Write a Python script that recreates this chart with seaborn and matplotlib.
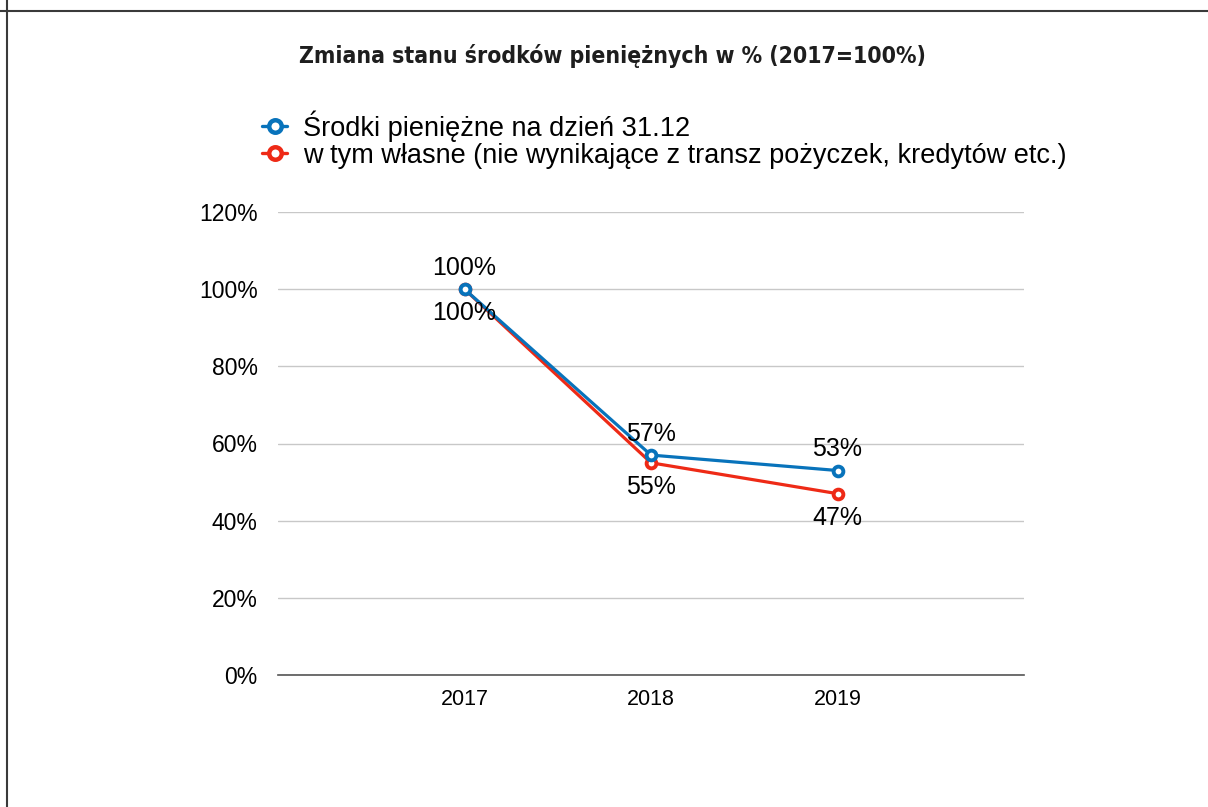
import pandas as pd
import matplotlib.pyplot as plt
import seaborn as sns
from matplotlib.lines import Line2D

# data
years = ['2017', '2018', '2019']
cash_total = [100, 57, 53]
cash_own = [100, 55, 47]
series_names = ['Środki pieniężne na dzień 31.12',
                'w tym własne (nie wynikające z transz pożyczek, kredytów etc.)']

BLUE = '#0873bb'
RED = '#ee2a16'

df = pd.DataFrame({
    'year': years * 2,
    'value': cash_own + cash_total,
    'series': [series_names[1]] * 3 + [series_names[0]] * 3,
})

sns.set_style('white')
plt.rcParams['font.family'] = ['Liberation Sans', 'DejaVu Sans']
plt.rcParams['text.color'] = 'black'
plt.rcParams['xtick.color'] = 'black'
plt.rcParams['ytick.color'] = 'black'

fig = plt.figure(figsize=(12.08, 8.07), dpi=100)
ax = fig.add_axes([278 / 1208, 1 - 675 / 807, (1024 - 278) / 1208, (675 - 212) / 807])

sns.lineplot(data=df, x='year', y='value', hue='series',
             hue_order=[series_names[1], series_names[0]],
             palette=[RED, BLUE], ax=ax, linewidth=2.3, marker='o',
             markersize=7, markerfacecolor='white', markeredgewidth=2.8,
             legend=False)
for line, c in zip(ax.lines, [RED, BLUE]):
    line.set_markeredgecolor(c)

ax.set_xlim(-1, 3)
ax.set_ylim(0, 120)
ax.set_yticks(range(0, 121, 20))
ax.set_yticklabels([f'{v}%' for v in range(0, 121, 20)])
ax.set_xlabel('')
ax.set_ylabel('')
ax.tick_params(axis='both', length=0)
ax.tick_params(axis='x', labelsize=15.5, pad=10)
ax.tick_params(axis='y', labelsize=16.5, pad=14.5)
ax.grid(axis='y', color='#c8c8c8', linewidth=1)
ax.set_axisbelow(True)
for s in ['top', 'right', 'left']:
    ax.spines[s].set_visible(False)
ax.spines['bottom'].set_color('#555555')
ax.spines['bottom'].set_linewidth(1.2)

# data labels: total above, own below
for i, v in enumerate(cash_total):
    ax.annotate(f'{v}%', (i, v), xytext=(0, 15.5), textcoords='offset points',
                ha='center', va='center', fontsize=18)
for i, v in enumerate(cash_own):
    ax.annotate(f'{v}%', (i, v), xytext=(0, -17.5), textcoords='offset points',
                ha='center', va='center', fontsize=18)

fig.text(612 / 1208, 1 - 56 / 807, 'Zmiana stanu środków pieniężnych w % (2017=100%)',
         ha='center', va='center', fontsize=16.5, fontweight='bold', color='#1e1e1e',
         fontstretch='condensed', family=['DejaVu Sans'])

handles = [Line2D([], [], color=c, linewidth=2.4, marker='o', markersize=9,
                  markerfacecolor='white', markeredgecolor=c, markeredgewidth=3.2)
           for c in [BLUE, RED]]
fig.legend(handles, series_names, loc='upper left',
           bbox_to_anchor=(262 / 1208, 1 - 110 / 807), frameon=False,
           fontsize=19.5, handlelength=0.93, handletextpad=0.6, labelspacing=0.05,
           borderpad=0, borderaxespad=0)

# figure border (top and left edges visible)
fig.add_artist(Line2D([0, 1], [1 - 10.5 / 807] * 2, color='#3a3a3a', linewidth=1.5,
                      transform=fig.transFigure))
fig.add_artist(Line2D([7.5 / 1208] * 2, [0, 1], color='#3a3a3a', linewidth=1.5,
                      transform=fig.transFigure))

fig.savefig('out.png', dpi=100)
